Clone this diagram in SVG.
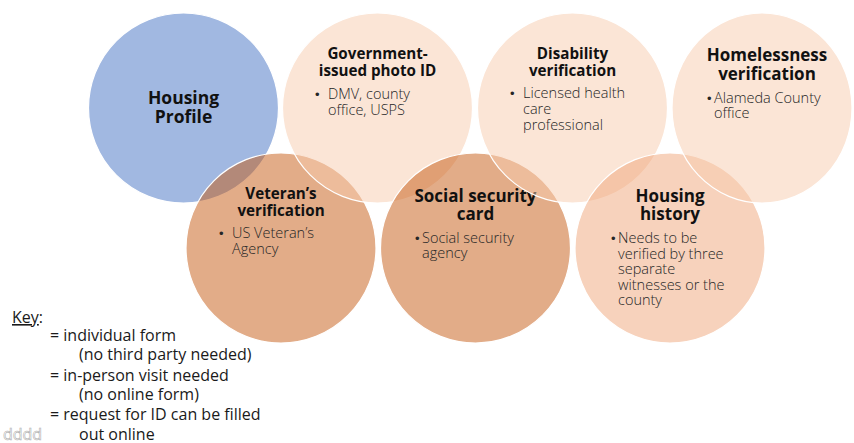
<svg xmlns="http://www.w3.org/2000/svg" width="854" height="443" viewBox="0 0 854 443">
<style>
.c{stroke:#ffffff;stroke-width:1.2}
.blue{fill:#4472c4;fill-opacity:.5}
.lt{fill:#f8cbad;fill-opacity:.5}
.dk{fill:#c55a11;fill-opacity:.5}
.hh{fill:#efa579;fill-opacity:.5}
.t{font-family:"Open Sans","Liberation Sans",sans-serif;font-weight:bold;fill:#111;text-anchor:middle}
.b{font-family:"Open Sans","Liberation Sans",sans-serif;font-weight:300;fill:#262626;font-size:14.5px}
.d{font-family:"Liberation Sans",sans-serif;fill:#262626;font-size:13px}
.k{font-family:"Open Sans","Liberation Sans",sans-serif;fill:#1a1a1a;font-size:16px}
</style>
<rect width="854" height="443" fill="#ffffff"/>
<g id="housing-profile">
<circle class="c blue" cx="183.5" cy="108" r="95"/>
<text class="t" font-size="17.5" x="183.5" y="104">Housing</text>
<text class="t" font-size="17.5" x="183.5" y="123">Profile</text>
</g>
<g id="veteran">
<circle class="c dk" cx="281" cy="248" r="95"/>
<text class="t" font-size="15.2" x="281" y="199">Veteran’s</text>
<text class="t" font-size="15.2" x="281" y="216">verification</text>
<text class="d" x="219" y="238">•</text>
<text class="b" x="232" y="238">US Veteran’s</text>
<text class="b" x="232" y="254">Agency</text>
</g>
<g id="gov-id">
<circle class="c lt" cx="377.5" cy="108" r="95"/>
<text class="t" font-size="15.2" x="377.5" y="59">Government-</text>
<text class="t" font-size="15.2" x="377.5" y="76">issued photo ID</text>
<text class="d" x="315" y="99">•</text>
<text class="b" x="328" y="99">DMV, county</text>
<text class="b" x="328" y="115">office, USPS</text>
</g>
<g id="social-security">
<circle class="c dk" cx="475.5" cy="248" r="95"/>
<text class="t" font-size="17" x="475.5" y="202">Social security</text>
<text class="t" font-size="17" x="475.5" y="220">card</text>
<text class="d" x="415" y="243">•</text>
<text class="b" font-size="13" x="422" y="243">Social security</text>
<text class="b" font-size="13" x="422" y="258">agency</text>
</g>
<g id="disability">
<circle class="c lt" cx="572.5" cy="108" r="95"/>
<text class="t" font-size="15.2" x="572.5" y="59">Disability</text>
<text class="t" font-size="15.2" x="572.5" y="76">verification</text>
<text class="d" x="510" y="98">•</text>
<text class="b" x="523" y="98">Licensed health</text>
<text class="b" x="523" y="114">care</text>
<text class="b" x="523" y="130">professional</text>
</g>
<g id="housing-history">
<circle class="c hh" cx="670" cy="248" r="95"/>
<text class="t" font-size="17" x="670" y="202">Housing</text>
<text class="t" font-size="17" x="670" y="220">history</text>
<text class="d" x="611" y="243">•</text>
<text class="b" font-size="13.1" x="618" y="243">Needs to be</text>
<text class="b" font-size="13.1" x="618" y="258.5">verified by three</text>
<text class="b" font-size="13.1" x="618" y="274">separate</text>
<text class="b" font-size="13.1" x="618" y="289.5">witnesses or the</text>
<text class="b" font-size="13.1" x="618" y="305">county</text>
</g>
<g id="homelessness">
<ellipse class="c lt" cx="762" cy="108" rx="90" ry="95"/>
<text class="t" font-size="17" x="767" y="61">Homelessness</text>
<text class="t" font-size="17" x="767" y="80">verification</text>
<text class="d" x="707" y="103">•</text>
<text class="b" font-size="13.4" x="714" y="103">Alameda County</text>
<text class="b" font-size="13.4" x="714" y="118">office</text>
</g>
<g id="key">
<text class="k" x="12" y="323"><tspan text-decoration="underline">Key</tspan>:</text>
<text class="k" x="50" y="341">= individual form</text>
<text class="k" x="79" y="360">(no third party needed)</text>
<text class="k" x="50" y="381">= in-person visit needed</text>
<text class="k" x="79" y="400">(no online form)</text>
<text class="k" x="50" y="420">= request for ID can be filled</text>
<text class="k" x="3" y="440" style="fill:#ffffff;stroke:#b0b0b0;stroke-width:0.6">dddd</text>
<text class="k" x="79" y="440">out online</text>
</g>
</svg>
